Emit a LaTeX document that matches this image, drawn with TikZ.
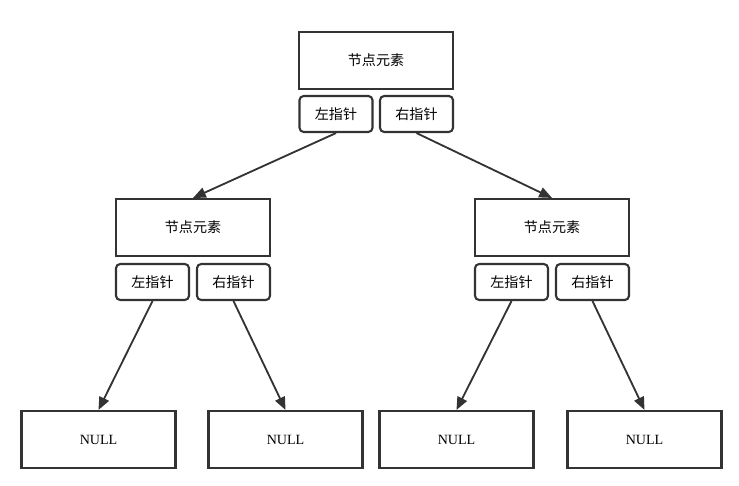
\documentclass[tikz,border=0pt]{standalone}
\usepackage{fontspec}
\setmainfont{Liberation Serif}
\newfontfamily\cjk{Noto Sans CJK SC}
\usepackage{tikz}
\usetikzlibrary{arrows.meta}
\definecolor{TreeInk}{HTML}{333333}

\begin{document}
\begin{tikzpicture}[x=0.025cm,y=-0.025cm]
    \tikzset{
      elem/.style={rectangle, draw=TreeInk, line width=1.5pt, minimum width=3.85cm,
        minimum height=1.425cm, inner sep=0pt, font=\cjk\fontsize{10}{12}\selectfont},
      ptr/.style={elem, rounded corners=3pt, minimum width=1.825cm, minimum height=0.9cm},
      nil/.style={elem, font=\fontsize{10}{12}\selectfont},
      link/.style={-{Stealth[length=3.2mm,width=2.6mm,inset=0pt]},draw=TreeInk,line width=1.3pt}
    }
    \useasboundingbox (0,0) rectangle (739,486);
    % root
    \node[elem] (r) at (376,60.5) {节点元素};
    \node[ptr] (rl) at (336,114) {左指针};
    \node[ptr] (rr) at (416.5,114) {右指针};
    % left child
    \node[elem] (a) at (193,227.5) {节点元素};
    \node[ptr] (al) at (152.5,282) {左指针};
    \node[ptr] (ar) at (233.5,282) {右指针};
    % right child
    \node[elem] (b) at (552,227.5) {节点元素};
    \node[ptr] (bl) at (511.5,282) {左指针};
    \node[ptr] (br) at (592.5,282) {右指针};
    % leaves
    \node[nil] (n1) at (98.5,439.5) {NULL};
    \node[nil] (n2) at (285.5,439.5) {NULL};
    \node[nil] (n3) at (456.5,439.5) {NULL};
    \node[nil] (n4) at (644.5,439.5) {NULL};
    \draw[link] (rl.south) -- (a.north);
    \draw[link] (rr.south) -- (b.north);
    \foreach \p/\q in {al/n1,ar/n2,bl/n3,br/n4}
      \draw[link] (\p.south) -- (\q.north);
\end{tikzpicture}
\end{document}
